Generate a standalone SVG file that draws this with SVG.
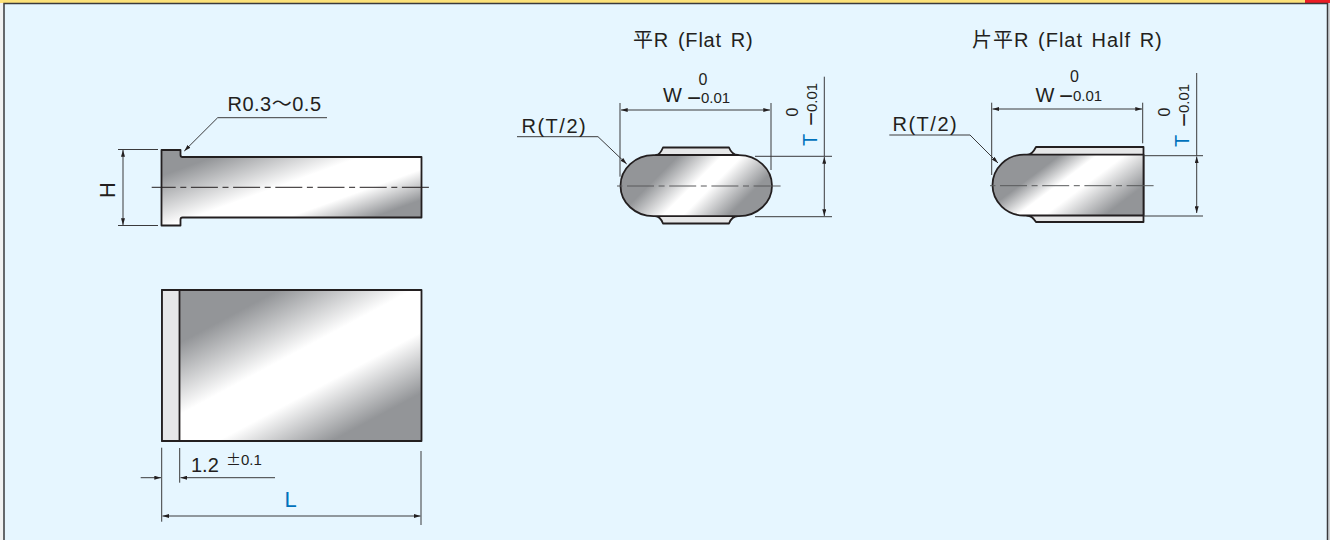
<svg xmlns="http://www.w3.org/2000/svg" width="1330" height="540" viewBox="0 0 1330 540">
<defs>
<linearGradient id="gTop" gradientUnits="userSpaceOnUse" x1="182.300" y1="341.400" x2="257" y2="481">
<stop offset="0" stop-color="#939598"/><stop offset="0.4" stop-color="#fff"/><stop offset="0.66" stop-color="#fff"/><stop offset="1" stop-color="#939598"/>
</linearGradient>
<linearGradient id="gSide" gradientUnits="userSpaceOnUse" x1="74.900" y1="207" x2="112.600" y2="311.400">
<stop offset="0" stop-color="#939598"/><stop offset="0.45" stop-color="#fff"/><stop offset="0.74" stop-color="#fff"/><stop offset="1" stop-color="#939598"/>
</linearGradient>
<linearGradient id="gFlat" gradientUnits="userSpaceOnUse" x1="417.100" y1="417.100" x2="472.100" y2="472.100">
<stop offset="0" stop-color="#939598"/><stop offset="0.4" stop-color="#fff"/><stop offset="0.58" stop-color="#fff"/><stop offset="1" stop-color="#939598"/>
</linearGradient>
<linearGradient id="gHalf" gradientUnits="userSpaceOnUse" x1="456" y1="608" x2="501" y2="668">
<stop offset="0" stop-color="#939598"/><stop offset="0.3" stop-color="#fff"/><stop offset="0.52" stop-color="#fff"/><stop offset="1" stop-color="#939598"/>
</linearGradient>
<marker id="a" viewBox="0 0 10 6" refX="10" refY="3" markerWidth="7" markerHeight="4" markerUnits="userSpaceOnUse" orient="auto-start-reverse"><path d="M0 0L10 3L0 6Z" fill="#231f20"/></marker>
</defs>
<style>
.t{font-family:"Liberation Sans",Arial,"Noto Sans CJK JP",sans-serif;fill:#231f20}
.j{font-family:"Noto Sans CJK JP","Liberation Sans",sans-serif}
.n{font-size:24px}
.b{fill:#0072bc}
.o{stroke:#231f20;stroke-width:1.8;stroke-linejoin:round}
.l{stroke:#3a3a3c;stroke-width:1;fill:none}
.c{stroke:#231f20;stroke-width:1;fill:none;stroke-dasharray:27 4.600 6 4.600;stroke-dashoffset:3}
.d{stroke:#58595b;stroke-width:1;fill:none;stroke-dasharray:27 4.600 6 4.600;stroke-dashoffset:32.200}
.g{fill:#e6e7e8}
</style>
<rect width="1330" height="540" fill="#e6f6ff"/>
<rect width="3.300" height="540" fill="#f1f2f2"/>
<rect x="1328.300" width="1.700" height="540" fill="#d1d3d4"/>
<rect width="1330" height="3" fill="#fde27a"/>
<rect x="1305" width="25" height="3" fill="#ed1c24"/>
<path d="M4 540V3.500H1327.500V540" fill="none" stroke="#3a3a3c" stroke-width="1.500"/>

<g id="side-view">
<path class="o" fill="url(#gSide)" d="M161.500 150H180.500V155Q180.500 157 182.500 157H421.500V217.500H182.500Q180.500 217.500 180.500 219.500V225.500H161.500Z"/>
</g>
<g id="top-view">
<rect class="o" fill="url(#gTop)" x="162" y="290" width="259.500" height="151"/>
<rect class="o g" x="162" y="290" width="17.500" height="151"/>
</g>
<g id="flat-r">
<path class="o g" d="M656 155Q660 155 663 147.500H729Q732 155 738 155ZM655 216Q660 216 663 223.500H729Q732 216 738 216Z"/>
<rect class="o" fill="url(#gFlat)" x="620.500" y="155.200" width="151.500" height="61" rx="33" ry="30.500"/>
</g>
<g id="flat-half-r">
<path class="o g" d="M1027 155Q1032 155 1036 147H1143.500V222H1036Q1032 215.500 1027 215.500Z"/>
<path class="o" fill="url(#gHalf)" d="M1143.500 154.700V215.500H1024A31.500 30.400 0 0 1 1024 154.700Z"/>
</g>

<g id="connectors">
<path class="c" d="M151.700 187.300H431"/>
<path class="d" d="M617 186H782"/>
<path class="d" d="M990 185.700H1155"/>
<path class="l" d="M118 149.500H158M118 225.500H158"/>
<path class="l" marker-start="url(#a)" marker-end="url(#a)" d="M123 150V225"/>
<path class="l" marker-end="url(#a)" d="M327 117.700H217.700L184.300 151"/>
<path class="l" d="M620 103V176.700M771 103V170"/>
<path class="l" marker-start="url(#a)" marker-end="url(#a)" d="M621 110H770"/>
<path class="l" marker-end="url(#a)" d="M517 136.700H598L626.700 164"/>
<path class="l" d="M755 156.300H832M755 216.700H832M824.300 76.700V156.300"/>
<path class="l" marker-start="url(#a)" marker-end="url(#a)" d="M824.300 157V216"/>
<path class="l" d="M991.700 102.700V175M1142.700 102.700V143.300"/>
<path class="l" marker-start="url(#a)" marker-end="url(#a)" d="M992.500 109H1142"/>
<path class="l" marker-end="url(#a)" d="M889.300 135H970L998 163"/>
<path class="l" d="M1143.500 155.700H1203M1143.500 216H1203M1196.700 73V155.700"/>
<path class="l" marker-start="url(#a)" marker-end="url(#a)" d="M1196.700 156.500V213"/>
<path class="l" d="M161.700 447.700V521.700M179.700 448V482.700M421 451V525"/>
<path class="l" marker-end="url(#a)" d="M140.700 477.700H161"/>
<path class="l" marker-start="url(#a)" d="M180.500 477.700H275"/>
<path class="l" marker-start="url(#a)" marker-end="url(#a)" d="M162.500 516H420.500"/>
</g>

<g id="labels">
<text class="t" x="227.500" y="111" font-size="20" letter-spacing=".5">R0.3～0.5</text>
<text class="t" transform="translate(115 190) rotate(-90)" text-anchor="middle" font-size="22">H</text>
<text class="t" x="633" y="47" font-size="20" letter-spacing=".8" word-spacing="2.500">平R (Flat R)</text>
<text class="t" x="972" y="47" font-size="20" letter-spacing="1" word-spacing="2">片平R (Flat Half R)</text>
<text class="t" x="663" y="101.500" font-size="20">W</text>
<text class="t" x="703" y="85" text-anchor="middle" font-size="16">0</text>
<text class="t" x="687" y="103" font-size="15"><tspan class="n" dy="2.500">−</tspan><tspan dy="-2.500">0.01</tspan></text>
<text class="t" x="521.500" y="133" font-size="20" letter-spacing="1.500">R(T/2)</text>
<text class="t" transform="translate(798 112) rotate(-90)" text-anchor="middle" font-size="16">0</text>
<text class="t" transform="translate(816.700 126) rotate(-90)" font-size="15"><tspan class="n" dy="2.500">−</tspan><tspan dy="-2.500">0.01</tspan></text>
<text class="t b" transform="translate(816.700 146) rotate(-90)" font-size="20">T</text>
<text class="t" x="1035.500" y="101.500" font-size="20">W</text>
<text class="t" x="1074.500" y="81.700" text-anchor="middle" font-size="16">0</text>
<text class="t" x="1059" y="101" font-size="15"><tspan class="n" dy="2.500">−</tspan><tspan dy="-2.500">0.01</tspan></text>
<text class="t" x="892.500" y="131" font-size="20" letter-spacing="1.500">R(T/2)</text>
<text class="t" transform="translate(1170 112) rotate(-90)" text-anchor="middle" font-size="16">0</text>
<text class="t" transform="translate(1189 127) rotate(-90)" font-size="15"><tspan class="n" dy="2.500">−</tspan><tspan dy="-2.500">0.01</tspan></text>
<text class="t b" transform="translate(1189 147) rotate(-90)" font-size="20">T</text>
<text class="t" x="191" y="471.700" font-size="20">1.2</text>
<text class="t" x="226" y="465" font-size="15"><tspan class="j">±</tspan>0.1</text>
<text class="t b" x="284.500" y="507.300" font-size="22">L</text>
</g>
</svg>
